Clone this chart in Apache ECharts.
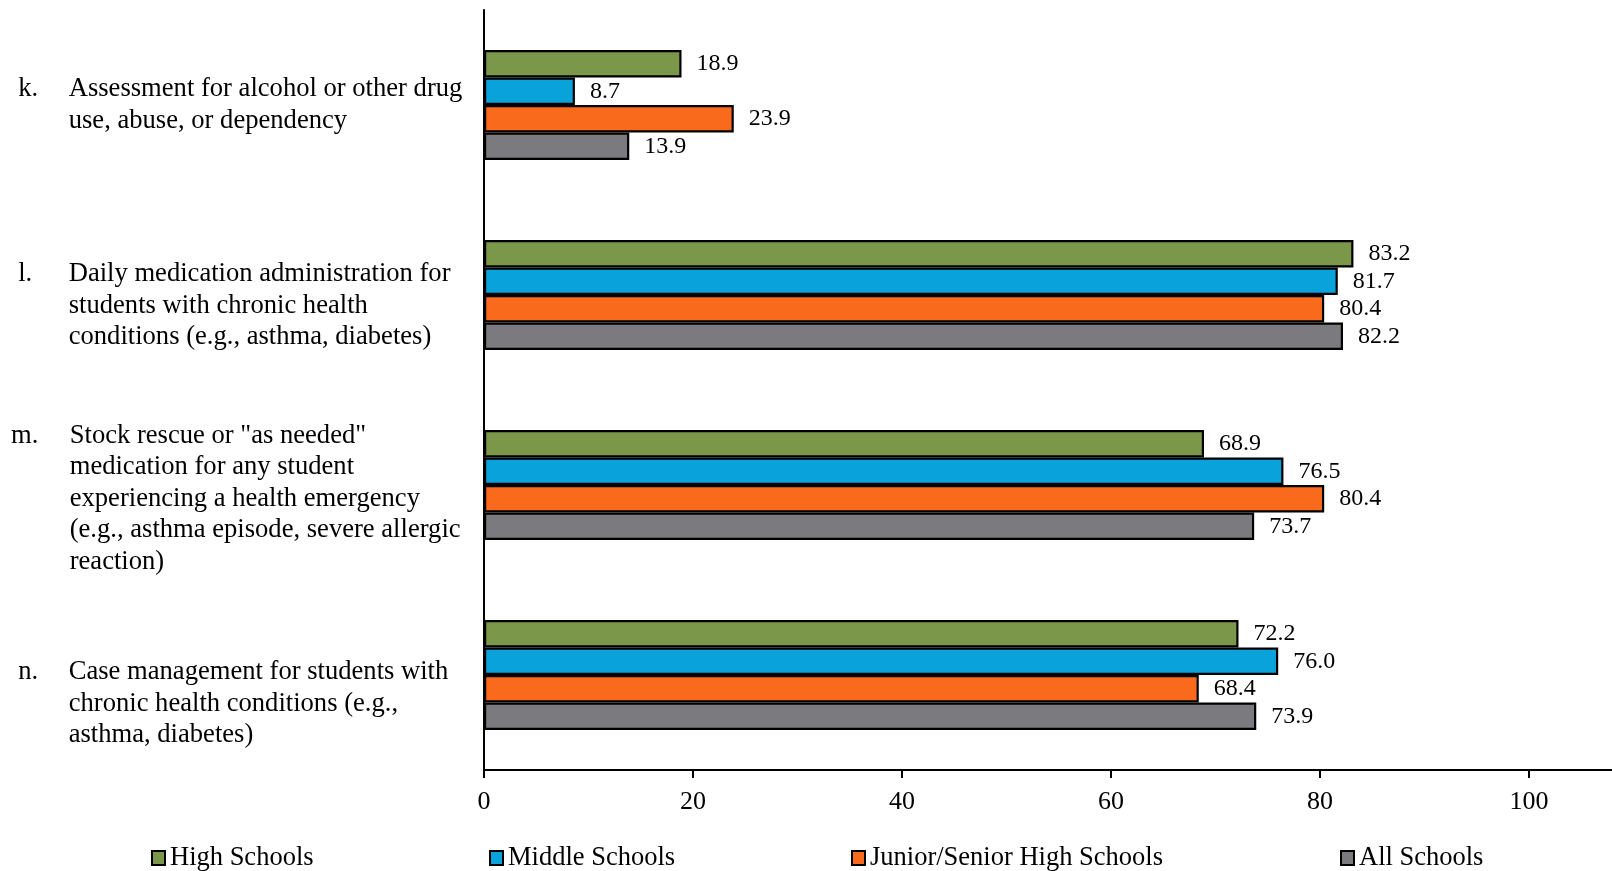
<!DOCTYPE html>
<html>
<head>
<meta charset="utf-8">
<script src="https://cdn.jsdelivr.net/npm/echarts@6/dist/echarts.min.js"></script>
<style>
html,body{margin:0;padding:0;background:#fff;}
#chart{width:1612px;height:871px;}
</style>
</head>
<body>
<div id="chart"></div>
<script>
const letters = ['k.', 'l.', 'm.', 'n.'];
const itemLines = [
  ['Assessment for alcohol or other drug', 'use, abuse, or dependency'],
  ['Daily medication administration for', 'students with chronic health', 'conditions (e.g., asthma, diabetes)'],
  ['Stock rescue or "as needed"', 'medication for any student', 'experiencing a health emergency', '(e.g., asthma episode, severe allergic', 'reaction)'],
  ['Case management for students with', 'chronic health conditions (e.g.,', 'asthma, diabetes)']
];
const seriesNames = ['High Schools', 'Middle Schools', 'Junior/Senior High Schools', 'All Schools'];
const highSchools = [18.9, 83.2, 68.9, 72.2];
const middleSchools = [8.7, 81.7, 76.5, 76.0];
const juniorSenior = [23.9, 80.4, 80.4, 68.4];
const allSchools = [13.9, 82.2, 73.7, 73.9];
const xTickValues = [0, 20, 40, 60, 80, 100];
const colors = ['#7A974A', '#0AA2DA', '#F96A1C', '#7B7B7F'];

const FONT = '"Liberation Serif", "Times New Roman", serif';
const seriesData = [highSchools, middleSchools, juniorSenior, allSchools];

// spacer line heights used to nudge each label block downward
const spacerStyle = ['', 's22', 's28', 's58'];

const chart = echarts.init(document.getElementById('chart'));

const series = seriesNames.map((name, si) => ({
  name: name,
  type: 'bar',
  data: seriesData[si],
  barWidth: 27.5,
  barGap: '0%',
  itemStyle: { color: colors[si], borderColor: '#000', borderWidth: 2.2 },
  label: {
    show: true,
    position: 'right',
    distance: 15,
    fontFamily: FONT,
    fontSize: 24,
    color: '#000',
    formatter: p => p.value.toFixed(1)
  }
}));

const legendLefts = [151, 489, 851, 1340];
const legends = seriesNames.map((name, i) => ({
  data: [name],
  left: legendLefts[i],
  top: 844,
  icon: 'rect',
  itemWidth: 13,
  itemHeight: 14,
  padding: 0,
  selectedMode: false,
  textStyle: { fontFamily: FONT, fontSize: 26.5, color: '#000', lineHeight: 28 }
}));

const tokenBase = { fontFamily: FONT, fontSize: 26.6, lineHeight: 31.5, color: '#000', align: 'left' };

chart.setOption({
  animation: false,
  backgroundColor: '#fff',
  legend: legends,
  grid: { left: 484, top: 10, right: -126, bottom: 101, containLabel: false, outerBoundsMode: 'none' },
  xAxis: {
    type: 'value',
    min: 0,
    max: 120,
    interval: 20,
    axisLine: { show: true, lineStyle: { color: '#000', width: 2 } },
    axisTick: { show: true, length: 8, lineStyle: { color: '#000', width: 2 } },
    splitLine: { show: false },
    axisLabel: {
      margin: 19,
      fontFamily: FONT,
      fontSize: 26,
      color: '#000',
      formatter: v => (xTickValues.indexOf(v) >= 0 ? String(v) : '')
    }
  },
  yAxis: {
    type: 'category',
    inverse: true,
    data: letters.map((l, i) => String(i)),
    axisLine: { show: true, lineStyle: { color: '#000', width: 2 } },
    axisTick: { show: false },
    axisLabel: {
      interval: 0,
      align: 'left',
      margin: 473,
      fontFamily: FONT,
      fontSize: 26.6,
      color: '#000',
      lineHeight: 31.5,
      formatter: function (v) {
        const i = Number(v);
        const isM = i === 2;
        const lines = itemLines[i].map((line, j) => {
          const head = isM
            ? '{am|' + (j === 0 ? letters[i] : ' ') + '}'
            : '{p| }{a|' + (j === 0 ? letters[i] : ' ') + '}';
          return head + '{b|' + line + '}';
        });
        if (spacerStyle[i]) lines.unshift('{' + spacerStyle[i] + '| }');
        return lines.join('\n');
      },
      rich: {
        p: Object.assign({}, tokenBase, { width: 7.2 }),
        a: Object.assign({}, tokenBase, { width: 50.5 }),
        am: Object.assign({}, tokenBase, { width: 58.7 }),
        b: Object.assign({}, tokenBase),
        s22: { fontSize: 1, lineHeight: 22 },
        s28: { fontSize: 1, lineHeight: 28 },
        s58: { fontSize: 1, lineHeight: 58 }
      }
    }
  },
  series: series
});
</script>
</body>
</html>
